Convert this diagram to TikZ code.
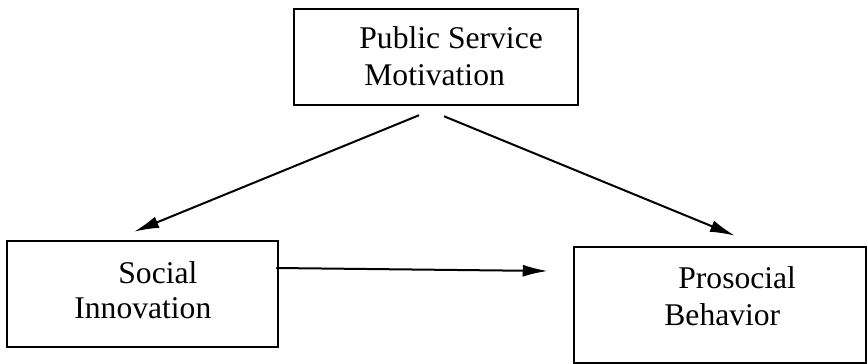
\documentclass[tikz,border=0pt]{standalone}
\usepackage{fontspec}
\setmainfont{Liberation Serif}
\usetikzlibrary{arrows.meta,calc}

\begin{document}
\begin{tikzpicture}[x=0.5pt, y=-0.5pt]
    % Define styles
    \tikzset{
        box/.style={draw, line width=1.25pt, inner sep=0pt},
        label/.style={anchor=base west, inner sep=0pt, font=\fontsize{15.8pt}{18pt}\selectfont},
        link/.style={line width=1pt, -{Latex[length=12.5pt,width=6pt]}}
    }

    % Fix the page size
    \useasboundingbox (0,0) rectangle (868,364);

    % Draw the three boxes
    \node[box, minimum width=142pt, minimum height=48pt] (psm) at (436,57) {};
    \node[box, minimum width=135.5pt, minimum height=53pt] (soc) at (142.5,294) {};
    \node[box, minimum width=146pt, minimum height=58pt] (pro) at (720,305) {};

    % Box texts, line by line
    \node[label] (psmA) at (359,48) {Public Service};
    \node[label] (psmB) at (364,85) {Motivation};
    \node[label] (socA) at (118,283) {Social};
    \node[label] (socB) at (74,318) {Innovation};
    \node[label] (proA) at (678,288) {Prosocial};
    \node[label] (proB) at (664,325) {Behavior};

    % Draw the paths
    \draw[link] ($(psm.south)+(-17,9)$) -- ($(soc.north)+(-8.5,-8)$);
    \draw[link] ($(psm.south)+(8,10)$) -- ($(pro.north)+(15,-10)$);
    \draw[link] ($(soc.east)+(-3,-26)$) -- ($(pro.west)+(-25,-34)$);
\end{tikzpicture}
\end{document}
